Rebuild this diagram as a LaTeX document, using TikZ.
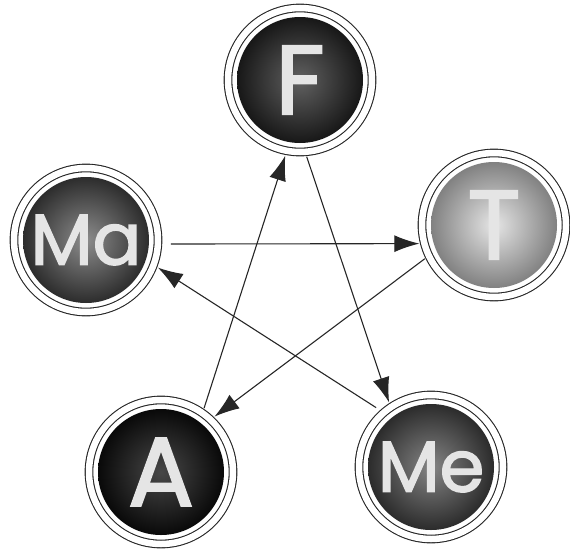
\documentclass[tikz,border=0pt]{standalone}
\usepackage{fontspec}
\newfontfamily\letterfont{Poppins}[FakeBold=2]
\usetikzlibrary{arrows.meta}
\begin{document}
\begin{tikzpicture}[x=1pt,y=-1pt,
  ring/.style={circle, minimum size=144pt, inner sep=0pt, outer sep=5pt,
    draw=black!85, line width=1.1pt, double=white, double distance=6.5pt, fill=white,
    text=white!90!black, font=\letterfont\fontsize{98}{98}\selectfont},
  ballshade/.style 2 args={path picture={
    \shade[inner color=#1, outer color=#2] (path picture bounding box.center) circle (63pt);}},
  small/.style={font=\letterfont\fontsize{72}{72}\selectfont},
  arr/.style={draw=black!85, line width=1.1pt, -{Latex[length=25pt,width=17pt]}}
]
\useasboundingbox (0,0) rectangle (570,554);
\node[ring, ballshade={black!62}{black!95}] (F) at (300,80) {F};
\node[ring, ballshade={black!10}{black!55}] (T) at (494,225) {T};
\node[ring, small, ballshade={black!45}{black!88}] (Ma) at (86,240) {Ma};
\node[ring, ballshade={black!72}{black}] (A) at (161,472) {A};
\node[ring, small, ballshade={black!48}{black!88}] (Me) at (431,467) {Me};
\draw[arr, shorten <=8pt] (Ma.-3) -- (T.194);
\draw[arr] (T.206) -- (A.46);
\draw[arr] (A.56) -- (F.259);
\draw[arr] (F.275) -- (Me.123);
\draw[arr, shorten <=4pt] (Me.132) -- (Ma.-21);
\end{tikzpicture}
\end{document}
